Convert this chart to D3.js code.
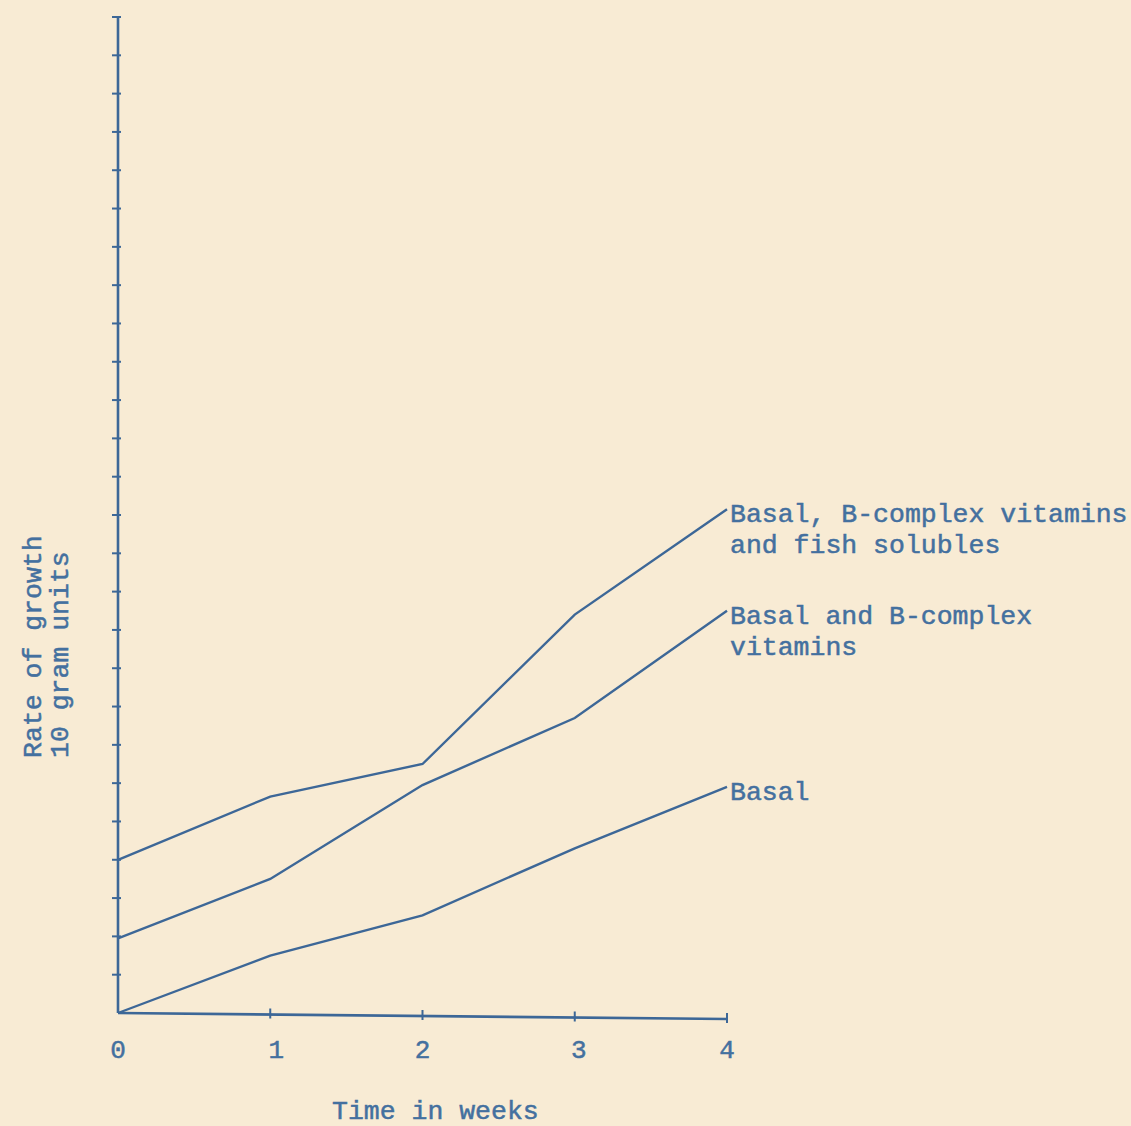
<!DOCTYPE html>
<html><head><meta charset="utf-8">
<script src="https://cdn.jsdelivr.net/npm/d3@7"></script>
<style>
html,body{margin:0;padding:0;background:#f8ebd4;}
svg{display:block;}
text{font-family:"Liberation Mono","DejaVu Sans Mono",monospace;fill:#44709f;stroke:#44709f;stroke-width:0.5px;}
</style></head>
<body>
<script>
const weeks = [0, 1, 2, 3, 4];
const xTickLabels = ["0", "1", "2", "3", "4"];
const yTicks = d3.range(1, 27);
const seriesNames = [
  ["Basal"],
  ["Basal and B-complex", "vitamins"],
  ["Basal, B-complex vitamins", "and fish solubles"]
];
const basal = [0, 1.5, 2.55, 4.3, 5.9];
const basalB = [1.95, 3.5, 5.95, 7.7, 10.5];
const basalBFish = [4.0, 5.65, 6.5, 10.4, 13.15];
const allSeries = [basal, basalB, basalBFish];

const W = 1131, H = 1126;
const ink = "#3d6797";
const charW = 15.9;
const svg = d3.select("body").append("svg").attr("width", W).attr("height", H);

const x = d3.scaleLinear().domain([0, 4]).range([118, 727]);
const y = d3.scaleLinear().domain([0, 26]).range([1013, 17]);

// y axis
svg.append("line").attr("x1", x(0)).attr("x2", x(0)).attr("y1", y(26)).attr("y2", y(0))
  .attr("stroke", ink).attr("stroke-width", 2.6);
svg.selectAll(".yt").data(yTicks).enter().append("line")
  .attr("x1", x(0) - 6).attr("x2", x(0) + 3)
  .attr("y1", d => y(d)).attr("y2", d => y(d))
  .attr("stroke", ink).attr("stroke-width", 2);

// x axis
svg.append("line").attr("x1", x(0)).attr("x2", x(4)).attr("y1", y(0)).attr("y2", y(0) + 6)
  .attr("stroke", ink).attr("stroke-width", 2.6);
svg.selectAll(".xt").data(weeks.slice(1)).enter().append("line")
  .attr("x1", d => x(d)).attr("x2", d => x(d))
  .attr("y1", d => y(0) + d * 1.5 - 6).attr("y2", d => y(0) + d * 1.5 + 4)
  .attr("stroke", ink).attr("stroke-width", 2);
const labelNudge = [0, 6, 0, 4, 0];
svg.selectAll(".xl").data(weeks).enter().append("text")
  .attr("x", (d, i) => x(d) + labelNudge[i]).attr("y", 1058)
  .attr("text-anchor", "middle").attr("font-size", 26)
  .text((d, i) => xTickLabels[i]);

const xt = "Time in weeks";
svg.append("text").attr("x", 332).attr("y", 1119)
  .attr("font-size", 26).attr("textLength", xt.length * charW).attr("lengthAdjust", "spacingAndGlyphs")
  .text(xt);

// y title
const yTitle = ["Rate of growth", "10 gram units"];
const yt = svg.append("g").attr("transform", "rotate(-90)");
yTitle.forEach((t, j) => {
  yt.append("text").attr("x", -758).attr("y", 41 + j * 27)
    .attr("font-size", 26).attr("textLength", t.length * charW).attr("lengthAdjust", "spacingAndGlyphs")
    .text(t);
});

// lines
const line = d3.line().x((d, i) => x(weeks[i])).y(d => y(d));
svg.selectAll(".series").data(allSeries).enter().append("path")
  .attr("d", d => line(d)).attr("fill", "none")
  .attr("stroke", ink).attr("stroke-width", 2.4);

// labels
allSeries.forEach((s, i) => {
  const lines = seriesNames[i];
  const yy = y(s[4]);
  lines.forEach((t, j) => {
    svg.append("text").attr("x", x(4) + 3).attr("y", yy + 13 + j * 31)
      .attr("font-size", 26)
      .attr("textLength", t.length * charW).attr("lengthAdjust", "spacingAndGlyphs")
      .text(t);
  });
});
</script>
</body></html>
